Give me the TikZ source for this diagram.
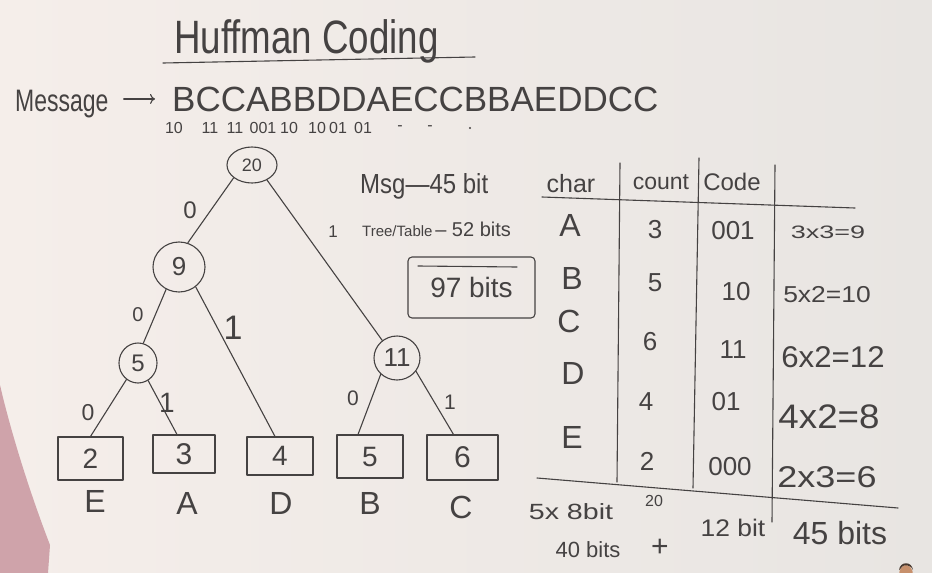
\documentclass[tikz,border=0pt]{standalone}
\usepackage{fontspec}
\setmainfont{Liberation Sans}
\usetikzlibrary{shapes.geometric,arrows.meta}
\definecolor{inkc}{HTML}{454242}
\definecolor{bgL}{HTML}{F5EEEA}
\definecolor{bgR}{HTML}{E8E5E2}
\definecolor{shirt}{HTML}{CFA3AA}
\definecolor{skin}{HTML}{C7906C}
\definecolor{hair}{HTML}{4A3A30}
\newcommand\hsz[1]{\fontsize{#1}{#1}\selectfont}

\begin{document}
\begin{tikzpicture}[x=1pt,y=-1pt,
  hand/.style={text=inkc, inner sep=0pt},
  pen/.style={draw=inkc, line width=1.1pt, line cap=round, line join=round},
  circnode/.style={pen, ellipse, inner sep=0pt, text=inkc},
  leaf/.style={pen, rectangle, inner sep=0pt, text=inkc},
  bitlbl/.style={hand},
]
\useasboundingbox (0,0) rectangle (932,573);
% board
\fill[left color=bgL, right color=bgR] (0,0) rectangle (932,573);
% sleeve at the left edge and small webcam face
\fill[shirt] (0,385) .. controls (8,420) and (25,480) .. (50,545) -- (48,573) -- (0,573) -- cycle;
\fill[skin] (906,575) ellipse (7 and 10);
\fill[hair] (899,570) .. controls (900,561) and (912,561) .. (913,570) -- (911,567) .. controls (906,564) and (903,565) .. (901,568) -- cycle;

% title
\node[hand, anchor=base west] (title) at (174,53) {\scalebox{1.02}[1.3]{\hsz{36}Huffman Coding}};
\draw[pen] (163,63) -- (475,57);

% message and its first codes
\node[hand, anchor=base west] (msgl) at (15,111) {\scalebox{1}[1.35]{\hsz{23}Message}};
\node[hand, anchor=base west] (msg) at (172,111) {\hsz{35}BCCABBDDAECCBBAEDDCC};
\draw[pen, -{To[length=5pt,width=10pt]}, shorten <=15pt, shorten >=17pt] (msgl.east |- msg.west) -- (msg.west);
\foreach \x/\t [count=\i] in {174/10, 210/11, 235/11, 263/001, 289/10, 317/10, 338/01, 363/01, 400/-, 430/-}
  \node[hand] (code\i) at (\x,128) {\hsz{16}\t};
\fill[inkc] (470,128) circle (1.1) coordinate (codedot);

% Huffman tree
\node[circnode, minimum width=50, minimum height=36] (n20) at (252,165) {\hsz{18}20};
\node[circnode, minimum width=52, minimum height=50] (n9) at (179,267) {\hsz{26}9};
\node[circnode, minimum width=38, minimum height=40] (n5) at (138,363) {\hsz{24}5};
\node[circnode, minimum width=46, minimum height=44] (n11) at (397,358) {\hsz{26}11};

\node[leaf, minimum width=65, minimum height=43] (b2) at (90.5,458.5) {\hsz{28}2};
\node[leaf, minimum width=62, minimum height=38] (b3) at (184,454) {\hsz{30}3};
\node[leaf, minimum width=66, minimum height=38] (b4) at (280,456) {\hsz{28}4};
\node[leaf, minimum width=66, minimum height=43] (b5) at (370,456.5) {\hsz{28}5};
\node[leaf, minimum width=71, minimum height=45] (b6) at (462.5,457.5) {\hsz{30}6};

\node[hand] (cE) at (95,501) {\hsz{32}E};
\node[hand] (cA) at (187,503) {\hsz{32}A};
\node[hand] (cD) at (281,503) {\hsz{32}D};
\node[hand] (cB) at (370,503) {\hsz{32}B};
\node[hand] (cC) at (461,507) {\hsz{32}C};

\draw[pen] (n20.215) -- (n9.70);
\draw[pen] (n20.315) -- (n11.130);
\draw[pen] (n9.240) -- (n5.75);
\draw[pen] (n9.310) -- ([xshift=-5pt]b4.north);
\draw[pen] (n5.235) -- (b2.north);
\draw[pen] (n5.300) -- ([xshift=-7pt]b3.north);
\draw[pen] (n11.225) -- ([xshift=-12pt]b5.north);
\draw[pen] (n11.325) -- ([xshift=-9pt]b6.north);

% edge bits
\node[bitlbl] (e1) at (190,210) {\hsz{24}0};
\node[bitlbl] (e2) at (333,232) {\hsz{17}1};
\node[bitlbl] (e3) at (138,315) {\hsz{20}0};
\node[bitlbl] (e4) at (233,328) {\hsz{34}1};
\node[bitlbl] (e5) at (88,413) {\hsz{23}0};
\node[bitlbl] (e6) at (167,403) {\hsz{28}1};
\node[bitlbl] (e7) at (353,398) {\hsz{21}0};
\node[bitlbl] (e8) at (450,402) {\hsz{21}1};

% cost notes
\node[hand, anchor=base west] (msgbits) at (360,193) {\scalebox{1}[1.15]{\hsz{24}Msg—45 bit}};
\node[hand, anchor=base west] (treebits) at (362,236) {{\hsz{15}Tree/Table} {\hsz{20}– 52 bits}};
\node[pen, rounded corners=4pt, minimum width=127, minimum height=61, inner sep=0pt, text=inkc] (total) at (471.5,287.5) {\hsz{28}97 bits};
\draw[pen] (418,266) -- (517,267);

% code table
\draw[pen] (620,163) -- (617,482);
\draw[pen] (699,158) -- (693,488);
\draw[pen] (775,165) -- (772,522);
\draw[pen] (542,197) -- (855,208);
\draw[pen] (537,478) -- (898,508);

\node[hand, anchor=base] (hchar) at (571,192) {\hsz{25}char};
\node[hand, anchor=base] (hcount) at (661,189) {\hsz{23}count};
\node[hand, anchor=base] (hcode) at (732,190) {\hsz{24}Code};

\node[hand] (rA) at (570,225) {\hsz{32}A};
\node[hand] (rB) at (572,278) {\hsz{32}B};
\node[hand] (rC) at (569,321) {\hsz{32}C};
\node[hand] (rD) at (573,373) {\hsz{32}D};
\node[hand] (rE) at (572,437) {\hsz{32}E};

\node[hand] (kA) at (655,230) {\hsz{26}3};
\node[hand] (kB) at (655,283) {\hsz{26}5};
\node[hand] (kC) at (650,342) {\hsz{26}6};
\node[hand] (kD) at (646,402) {\hsz{26}4};
\node[hand] (kE) at (647,461) {\hsz{26}2};

\node[hand] (dA) at (733,231) {\hsz{26}001};
\node[hand] (dB) at (736,292) {\hsz{26}10};
\node[hand] (dC) at (733,350) {\hsz{26}11};
\node[hand] (dD) at (726,402) {\hsz{26}01};
\node[hand] (dE) at (730,467) {\hsz{26}000};

\node[hand] (pA) at (828,232) {\scalebox{1.5}[1]{\hsz{18}3x3=9}};
\node[hand] (pB) at (827,295) {\scalebox{1.15}[1]{\hsz{23}5x2=10}};
\node[hand] (pC) at (833,357) {\scalebox{1.04}[1]{\hsz{30}6x2=12}};
\node[hand] (pD) at (829,417) {\scalebox{1.08}[1]{\hsz{34}4x2=8}};
\node[hand] (pE) at (827,477) {\scalebox{1.2}[1]{\hsz{30}2x3=6}};

% totals under the table
\node[hand] (tcount) at (654,501) {\hsz{16}20};
\node[hand] (tchars) at (571,512) {\scalebox{1.3}[1]{\hsz{22}5x 8bit}};
\node[hand] (tcharb) at (588,550) {\hsz{22}40 bits};
\node[hand] (tplus) at (660,548) {\hsz{30}+};
\node[hand] (tcodes) at (733,528) {\scalebox{1.1}[1]{\hsz{24}12 bit}};
\node[hand] (tmsg) at (840,533) {\hsz{32}45 bits};
\end{tikzpicture}
\end{document}
